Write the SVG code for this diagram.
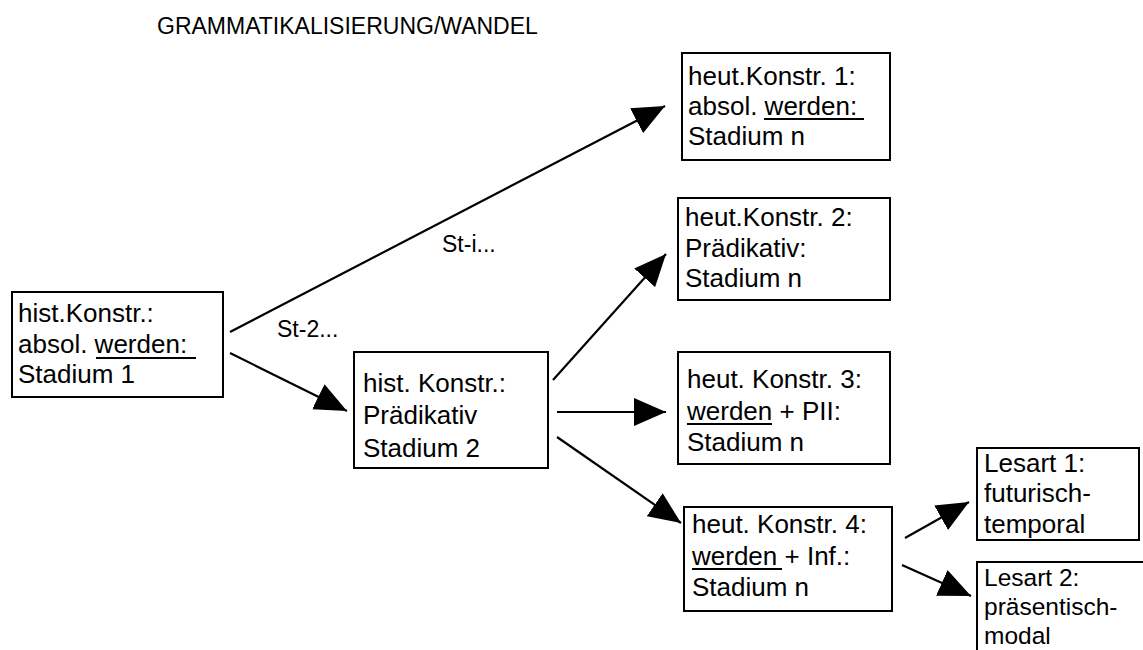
<svg xmlns="http://www.w3.org/2000/svg" width="1143" height="650" viewBox="0 0 1143 650">
<style>
  text { font-family: "Liberation Sans", Arial, sans-serif; font-size: 26px; fill: #000; }
  .title { font-size: 23px; }
  .lbl { font-size: 23px; }
  .sm { font-size: 24.5px; }
  .box { fill: #fff; stroke: #000; stroke-width: 2; }
  .conn { stroke: #000; stroke-width: 2.2; fill: none; marker-end: url(#ah); }
  .ul { stroke: #000; stroke-width: 2; }
</style>
<defs>
  <marker id="ah" markerUnits="userSpaceOnUse" markerWidth="34" markerHeight="28" refX="32" refY="14" orient="auto">
    <path d="M0,0 L32,14 L0,28 z" fill="#000"/>
  </marker>
</defs>
<rect width="1143" height="650" fill="#fff"/>
<text class="title" x="157" y="34">GRAMMATIKALISIERUNG/WANDEL</text>

<g id="connectors">
  <line class="conn" x1="230" y1="332" x2="665" y2="106"/>
  <line class="conn" x1="230" y1="353" x2="347" y2="411"/>
  <line class="conn" x1="553" y1="380" x2="666" y2="254"/>
  <line class="conn" x1="557" y1="412" x2="666" y2="412"/>
  <line class="conn" x1="557" y1="437" x2="681" y2="523"/>
  <line class="conn" x1="905" y1="538" x2="969" y2="502"/>
  <line class="conn" x1="902" y1="565" x2="971" y2="596"/>
  <text class="lbl" x="442" y="252">St-i...</text>
  <text class="lbl" x="277" y="337">St-2...</text>
</g>

<g id="hist1">
  <rect class="box" x="12" y="292" width="211" height="105"/>
  <text x="18" y="322">hist.Konstr.:</text>
  <text x="18" y="353">absol. werden:</text>
  <line class="ul" x1="96" y1="358" x2="196" y2="358"/>
  <text x="18" y="383">Stadium 1</text>
</g>

<g id="hist2">
  <rect class="box" x="354" y="352" width="194" height="116"/>
  <text x="363" y="392">hist. Konstr.:</text>
  <text x="363" y="424">Prädikativ</text>
  <text x="363" y="457">Stadium 2</text>
</g>

<g id="heut1">
  <rect class="box" x="682" y="53" width="208" height="107"/>
  <text x="688" y="85">heut.Konstr. 1:</text>
  <text x="688" y="115">absol. werden:</text>
  <line class="ul" x1="764" y1="119" x2="864" y2="119"/>
  <text x="688" y="145">Stadium n</text>
</g>

<g id="heut2">
  <rect class="box" x="678" y="198" width="212" height="102"/>
  <text x="685" y="226">heut.Konstr. 2:</text>
  <text x="685" y="257">Prädikativ:</text>
  <text x="685" y="287">Stadium n</text>
</g>

<g id="heut3">
  <rect class="box" x="678" y="352" width="212" height="112"/>
  <text x="687" y="388">heut. Konstr. 3:</text>
  <text x="687" y="420">werden + PII:</text>
  <line class="ul" x1="687" y1="424" x2="772" y2="424"/>
  <text x="687" y="451">Stadium n</text>
</g>

<g id="heut4">
  <rect class="box" x="684" y="507" width="208" height="104"/>
  <text x="692" y="533">heut. Konstr. 4:</text>
  <text x="692" y="565">werden + Inf.:</text>
  <line class="ul" x1="692" y1="569" x2="782" y2="569"/>
  <text x="692" y="596">Stadium n</text>
</g>

<g id="lesart1">
  <rect class="box" x="977" y="448" width="162" height="92"/>
  <text x="984" y="472">Lesart 1:</text>
  <text x="984" y="502">futurisch-</text>
  <text x="984" y="533">temporal</text>
</g>

<g id="lesart2">
  <rect class="box" x="977" y="562" width="200" height="120"/>
  <text class="sm" x="984" y="586">Lesart 2:</text>
  <text class="sm" x="984" y="615">präsentisch-</text>
  <text class="sm" x="984" y="644">modal</text>
</g>
</svg>
